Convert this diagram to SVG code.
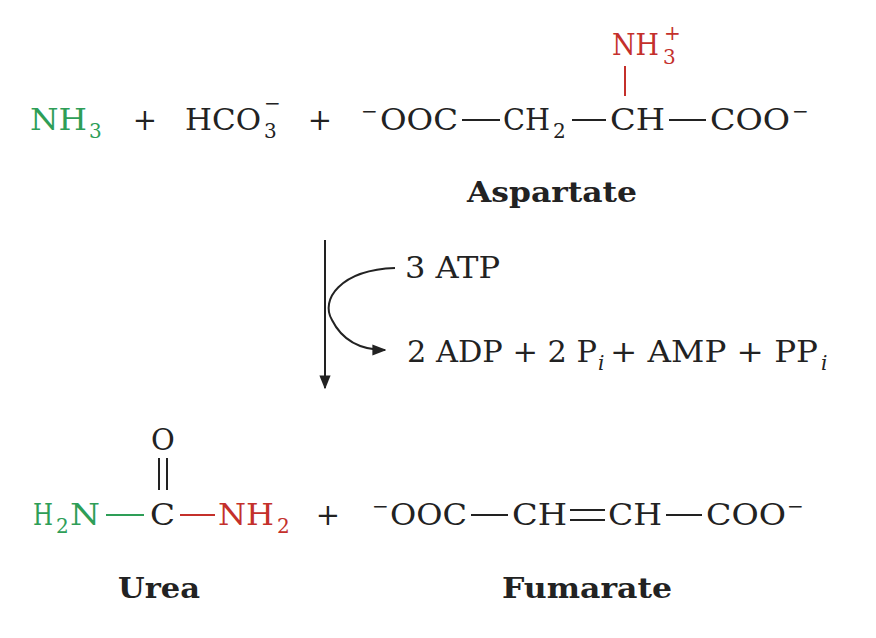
<svg xmlns="http://www.w3.org/2000/svg" width="876" height="638" viewBox="0 0 876 638">
<defs>
<style>
text{font-family:"DejaVu Serif","Liberation Serif",serif;font-size:29px;fill:#222}
.g{fill:#2e9e57}.r{fill:#c4302b}
.b{font-weight:bold;font-size:28px}
.s{font-size:20px}
.i{font-style:italic}
line,path{stroke:#222;stroke-width:2;fill:none}
.lg{stroke:#2e9e57}.lr{stroke:#c4302b}
</style>
<marker id="ah" viewBox="0 0 10 10" refX="9" refY="5" markerWidth="7" markerHeight="7" orient="auto"><path d="M0,1 L10,5 L0,9 z" style="fill:#222;stroke:none"/></marker>
</defs>
<g id="reactants">
<text x="30" y="130" class="g" textLength="57" lengthAdjust="spacingAndGlyphs">NH</text>
<text x="89" y="138" class="g s">3</text>
<text x="145" y="130" text-anchor="middle">+</text>
<text x="185" y="130" textLength="76" lengthAdjust="spacingAndGlyphs">HCO</text>
<text x="264" y="138" class="s">3</text>
<text x="264" y="110" class="s">−</text>
<text x="320" y="130" text-anchor="middle">+</text>
<text x="361" y="118" class="s">−</text>
<text x="380" y="130" textLength="78" lengthAdjust="spacingAndGlyphs">OOC</text>
<line x1="462" y1="120" x2="500" y2="120"/>
<text x="503" y="130" textLength="47" lengthAdjust="spacingAndGlyphs">CH</text>
<text x="553" y="138" class="s">2</text>
<line x1="572" y1="120" x2="606" y2="120"/>
<text x="610" y="130" textLength="55" lengthAdjust="spacingAndGlyphs">CH</text>
<line x1="669" y1="120" x2="706" y2="120"/>
<text x="710" y="130" textLength="80" lengthAdjust="spacingAndGlyphs">COO</text>
<text x="792" y="118" class="s">−</text>
<line class="lr" x1="625" y1="66" x2="625" y2="96"/>
<text x="612" y="55" class="r" textLength="47" lengthAdjust="spacingAndGlyphs">NH</text>
<text x="663" y="64" class="r s">3</text>
<text x="664" y="40" class="r s">+</text>
<text x="467" y="202" class="b" textLength="170" lengthAdjust="spacingAndGlyphs">Aspartate</text>
</g>
<g id="connectors">
<line x1="325" y1="240" x2="325" y2="388" marker-end="url(#ah)"/>
<path d="M395,268 C340,270 320,300 332,320 C342,340 360,350 385,350" marker-end="url(#ah)"/>
</g>
<g id="cofactors">
<text x="405" y="278" textLength="95" lengthAdjust="spacingAndGlyphs">3 ATP</text>
<text x="407" y="362" textLength="190" lengthAdjust="spacingAndGlyphs">2 ADP + 2 P</text>
<text x="598" y="370" class="s i">i</text>
<text x="610" y="362" textLength="208" lengthAdjust="spacingAndGlyphs">+ AMP + PP</text>
<text x="821" y="370" class="s i">i</text>
</g>
<g id="urea">
<text x="163" y="450" text-anchor="middle">O</text>
<line x1="159" y1="458" x2="159" y2="490"/>
<line x1="167" y1="458" x2="167" y2="490"/>
<text x="33" y="525" class="g" textLength="20" lengthAdjust="spacingAndGlyphs">H</text>
<text x="56" y="533" class="g s">2</text>
<text x="70" y="525" class="g" textLength="30" lengthAdjust="spacingAndGlyphs">N</text>
<line class="lg" x1="106" y1="515" x2="144" y2="515"/>
<text x="150" y="525" textLength="25" lengthAdjust="spacingAndGlyphs">C</text>
<line class="lr" x1="180" y1="515" x2="215" y2="515"/>
<text x="218" y="525" class="r" textLength="56" lengthAdjust="spacingAndGlyphs">NH</text>
<text x="277" y="533" class="r s">2</text>
<text x="118" y="598" class="b" textLength="82" lengthAdjust="spacingAndGlyphs">Urea</text>
</g>
<text x="328" y="525" text-anchor="middle">+</text>
<g id="fumarate">
<text x="372" y="513" class="s">−</text>
<text x="390" y="525" textLength="77" lengthAdjust="spacingAndGlyphs">OOC</text>
<line x1="471" y1="515" x2="508" y2="515"/>
<text x="512" y="525" textLength="55" lengthAdjust="spacingAndGlyphs">CH</text>
<line x1="570" y1="510" x2="605" y2="510"/>
<line x1="570" y1="520" x2="605" y2="520"/>
<text x="608" y="525" textLength="54" lengthAdjust="spacingAndGlyphs">CH</text>
<line x1="666" y1="515" x2="702" y2="515"/>
<text x="706" y="525" textLength="80" lengthAdjust="spacingAndGlyphs">COO</text>
<text x="787" y="513" class="s">−</text>
<text x="502" y="598" class="b" textLength="170" lengthAdjust="spacingAndGlyphs">Fumarate</text>
</g>
</svg>
